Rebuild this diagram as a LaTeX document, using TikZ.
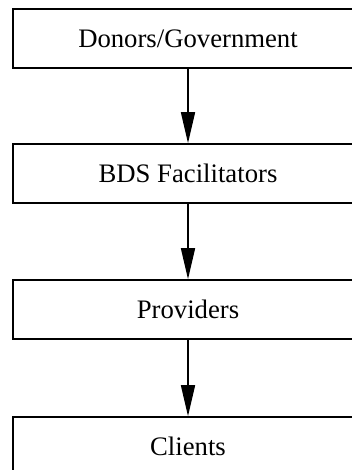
\documentclass[tikz,border=0pt]{standalone}
\usepackage{fontspec}
\setmainfont{Liberation Serif}
\usetikzlibrary{arrows.meta}
\begin{document}
\begin{tikzpicture}[x=1pt,y=1pt,
  boxnode/.style={draw=black, line width=1.6pt, minimum width=350pt, minimum height=59pt,
    inner sep=0pt, font=\fontsize{26.7}{30}\selectfont},
  flow/.style={draw=black, line width=1.6pt, -{Triangle[length=31pt,width=14pt]}, shorten >=0pt}]
\useasboundingbox (0,0) rectangle (352,-470);
\clip (0,0) rectangle (352,-470);
\node[boxnode] (b1) at (188,-38.5) {Donors/Government};
\node[boxnode] (b2) at (188,-173.5) {BDS Facilitators};
\node[boxnode] (b3) at (188,-309.5) {Providers};
\node[boxnode] (b4) at (188,-446.5) {Clients};
\draw[flow] (b1.south) -- (b2.north);
\draw[flow] (b2.south) -- (b3.north);
\draw[flow] (b3.south) -- (b4.north);
\end{tikzpicture}
\end{document}
